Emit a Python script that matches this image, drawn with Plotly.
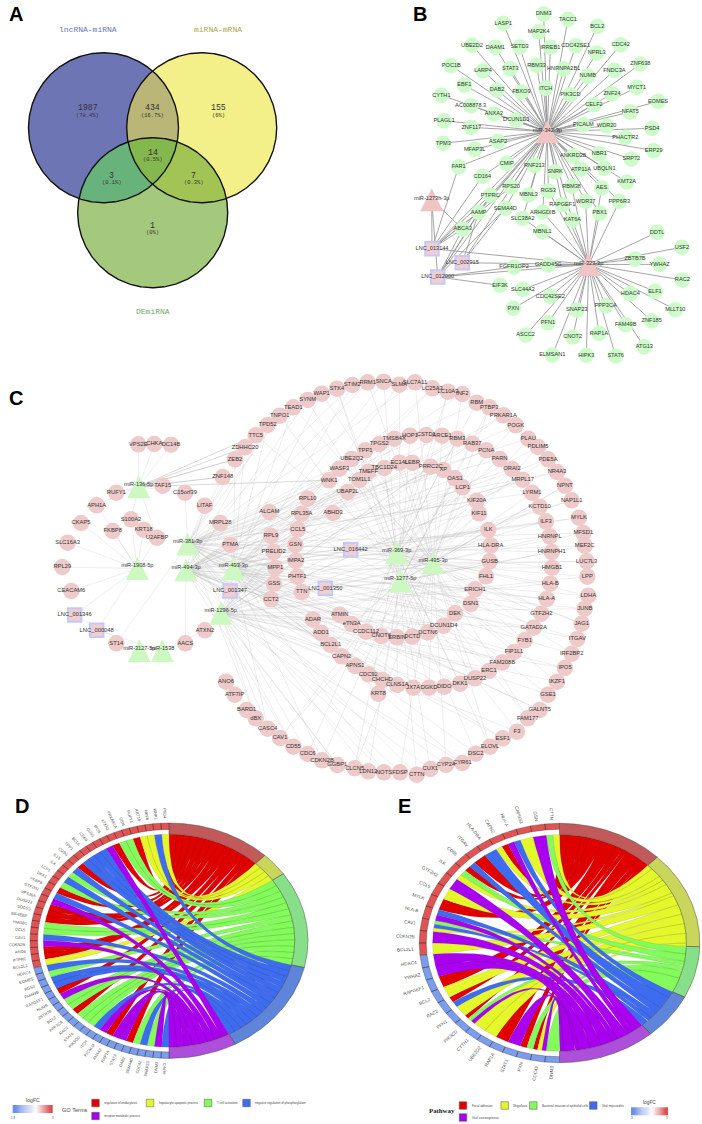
import math
import numpy as np
import plotly.graph_objects as go

# ---------- Panel A ----------
VENN_CIRCLES = {"lnc": (103.5, 127.7, 75), "mir": (201.7, 127.7, 75), "de": (152.7, 212.7, 75)}
VENN_COUNTS = ["1987", "434", "155", "14", "3", "7", "1"]
VENN_PCTS = ["(78.4%)", "(16.7%)", "(6%)", "(0.5%)", "(0.1%)", "(0.3%)", "(0%)"]
VENN_X = [87.7, 152.7, 218.3, 152.7, 111.7, 193.3, 152.7]
VENN_Y = [107.7, 107.7, 107.7, 152, 175, 175, 225.3]
VENN_TITLES = ["lncRNA-miRNA", "miRNA-mRNA", "DEmiRNA"]
VENN_TITLE_X = [87.7, 217.7, 152.7]
VENN_TITLE_Y = [29.3, 29.3, 311.7]
VENN_TITLE_COL = ["#6c74bb", "#a9a64e", "#6fa868"]

# ---------- Panel B (positions read in 3x crops) ----------
B_UP = ["LASP1","DNM3","TACC1","BCL2","MAP2K4","UBE2D2","DAAM1","SETD3","IRREB1","CDC42SE1","NPRL3","CDC42","ZNF638","POC1B","LARP4","STAT3","RBM33","HNRNPA2B1","NUMB","FNDC3A","EBF1","DAB2","FBXO9","ITCH","PIK3CD","ZNF24","MYCT1","CYTH1","AC008878.3","ANXA2","CELF2","EOMES","NFAT5","PLAGL1","ZNF117","DCUN1D1","PICALM","WDR20","PSD4","TPM3","ASAP2","MFAP3L","PHACTR2","ERP29","NBR1","SRP72","ANKRD28","FAR1","CMIP","RNF213","SNRK","ATP11A","UBQLN1","KMT2A","CD164","RPS20","RBM38","AES"]
B_UP_ZX = [310,431,504,592,416,216,286,359,451,527,590,662,721,154,249,331,410,491,563,643,193,291,364,437,511,636,710,124,212,282,582,774,691,132,214,349,550,620,756,130,294,224,676,761,598,694,519,176,320,403,465,543,613,680,247,333,515,605]
B_UP_ZY = [70,42,58,79,95,136,142,141,142,137,159,134,192,197,212,206,196,207,228,211,255,270,276,265,284,281,262,286,317,342,314,304,336,362,382,360,374,378,385,430,424,448,412,452,461,477,468,500,490,496,515,508,505,546,529,561,559,564]
B_LOW = ["PTPRC","MBNL3","RGS3","WDR37","PPP6R3","SEMA4D","RAPGEF1","ARHGDIB","PBX1","SLC38A2","KAT6A","AAMP","ABCA3","MBNL1","FGFR1OP2","GADD45G","DDTL","USF2","ZBTB7B","YWHAZ","RAC2","EIF3K","SLC44A2","CDC42SE2","HDAC4","ELF1","MLLT10","PXN","SNAP23","PPP3CA","ZNF185","PFN1","FAM49B","ASCC2","CNOT2","RAP1A","ATG13","ELMSAN1","HIPK3","STAT6"]
B_LOW_ZX = [271,386,445,557,658,316,487,428,599,368,517,236,188,427,342,445,771,846,705,779,847,300,369,451,691,765,826,340,530,617,755,444,677,377,518,597,733,457,559,647]
B_LOW_ZY = [46,45,33,64,64,85,74,97,99,115,120,97,147,155,261,255,157,202,237,253,300,316,328,349,341,334,389,385,390,377,422,428,434,465,471,460,500,525,526,528]
B_MIR = ["miR-342-3p", "miR-323-3p", "miR-1273h-3p"]
B_MIR_X = [547.3, 588.7, 431.7]
B_MIR_Y = [131.7, 264.5, 199.7]
B_LNC = ["LNC_013144", "LNC_002915", "LNC_012000"]
B_LNC_X = [432, 462.3, 437.7]
B_LNC_Y = [248.7, 262.7, 277]
B_TO_342 = B_UP + ["PTPRC","MBNL3","RGS3","WDR37","PPP6R3","SEMA4D","RAPGEF1","ARHGDIB","PBX1","KAT6A","AAMP","ABCA3","SLC38A2","LNC_013144","LNC_002915","LNC_012000"]
B_TO_323 = ["SLC38A2","ARHGDIB","MBNL1","KAT6A","RAPGEF1","WDR37","PBX1","PPP6R3","RGS3","RBM38","AES","FGFR1OP2","GADD45G","DDTL","USF2","ZBTB7B","YWHAZ","RAC2","SLC44A2","CDC42SE2","HDAC4","ELF1","MLLT10","PXN","SNAP23","PPP3CA","ZNF185","PFN1","FAM49B","ASCC2","CNOT2","RAP1A","ATG13","ELMSAN1","HIPK3","STAT6","LNC_002915","LNC_012000","LNC_013144"]
B_EXTRA_A = ["miR-1273h-3p","miR-1273h-3p","miR-1273h-3p","FAR1","CD164","PTPRC","AAMP","AAMP","SEMA4D","RPS20","ABCA3","ABCA3","LNC_012000","LNC_012000","PTPRC","SEMA4D","AAMP"]
B_EXTRA_B = ["LNC_013144","LNC_012000","ABCA3","LNC_013144","LNC_013144","LNC_013144","LNC_012000","LNC_013144","LNC_002915","LNC_013144","LNC_013144","LNC_012000","EIF3K","FGFR1OP2","LNC_012000","LNC_012000","LNC_002915"]

# ---------- Panel C ----------
C_OUTER = ["ZEB2","ZDHHC20","TTC5","TPD52","TNPO1","TEAD1","SYNM","WAP1","STK4","STIM2","RRM1","SNCA","SLMA","SLC7A11","LC25A3","LC10A3","INF2","RBM","PTBP3","PRKAR1A","POGK","PLAU","PDLIM5","PDE5A","NR4A3","NPNT","NAP1L1","MYLK","MFSD1","MEF2C","LUC7L3","LPP","LDHA","JUNB","JAG1","ITGAV","IRF2BP2","IPO5","IKZF1","GSE1","GALNT5","FAM177","F3","ESF1","ELOVL","DSC2","CYR61","CYP24","CUX1","CTTN","FDSP","NOTS","LDN12","CLCN5","GGBP1","CDKN2B","CDC6","CD55","CAV1","CASC4","dBX","BARD1","ATF7IP","ANO6"]
C_OUTER_X = [235,245,255.7,267.7,279.7,293.3,307.7,321.7,337,352.3,367.7,383.7,399.3,415,432.3,448,462.3,476.7,489.3,503.3,515.7,528.3,538,548,557,565,571.7,579,583.3,584.7,586.7,587.3,588.3,584.7,581.7,577.3,571.7,565,557,548,539.7,527.7,517,502.7,490,475.7,462.3,446,430.3,416.7,400,384,368.3,354.7,337.3,322,307.7,293.3,280,267.7,255.7,246.7,234.7,226]
C_OUTER_Y = [459.3,447.3,435.3,425,415.7,407.3,400,393.7,388.7,385,382.3,381.7,384.7,382.3,388.3,391.7,394,402.7,407.3,415.3,425.3,438.7,447,459.3,472,485.7,500.3,517.7,533,545.7,561.3,576.7,595.7,608.7,623.7,639,653.7,668,681.7,694.7,710,718.3,731.7,738.3,746.7,753.7,763,765,769,774.7,772.3,772.3,771.3,768.3,765,760.3,754,746.7,738,728.7,718.3,710,694.7,681.7]
C_OUTER_H = "ea be fb ed hb gi fd ge hf bi gd fe hi gb ei fh dg bf gh ei fd hb gi ef db hg if de gb hf eg bi fh di gf he bg id fi hd eb gf ih de fg bh ie gd hi fb dg ei bh gf di he fb id gh ei ib".split()
C_MID = ["ZNF148","WNK1","WASF3","UBE2Q2","TPP1","TPGS2","TMSB4X","HOP1","CSTD1","ARCE1","RBM3","RAB37","PCNA","PARN","ORAI2","MRPL17","LYRM1","KCTD10","ILF3","HNRNPL","HNRNPH1","HMGB1","HLA-B","HLA-A","GTF2H2","GATAD2A","FYB1","FIP1L1","FAM208B","ERC1","DUSP22","DKK1","DIDO","DGKD","JX7A","CLNS1A","CHCHD","CDC92","APNS1","CAPN2","BCL2L1","ADD1","ADAR","KRT8"]
C_MID_X = [222.7,329,339.3,351.7,365.3,379.3,394.3,410,426.3,442,457.3,472.3,486.3,499.7,512,522.7,532,539.7,546,549.7,551.7,552,550.3,546.7,541.3,533.7,524.7,514,502.3,489,475,460,444.3,429,413.3,397.3,382.3,368.3,355,341.7,330.7,321,313,378.3]
C_MID_Y = [477,480.3,468.7,459,450.3,444,438.7,435.7,435,435.7,438.7,443.7,450.3,459,469,479.7,492.7,506.7,521.3,536.3,552,567.7,583.7,599,613.7,627.7,640.3,652,662.3,671,678.3,683.7,686.7,687.7,687.7,685,680,674.3,666,656.3,645,632.7,619.3,693.7]
C_MID_H = "ab bd eg dh ig fb gi he bf dg ef ih gd fb hd ie bg fh di ge hb fd gi eh bf di gh fe db hi gd ef ib hg de fb ih gd eb fi hd be".split()
C_INNER = ["UBAP2L","TOM1L1","TMEFF","TBC1D24","EC14L","LEBR","PRRC2C","XP","OAS1","LCP1","KIF20A","KIF11","ILK","HLA-DRA","GUSB","FHL1","ERICH1","DSN1","DEK","DCUN1D4","DCTN6","DCTD","ERBIN","CNOT6","CCDC112","eTN3A","ATMIN"]
C_INNER_X = [347.7,359.3,368.3,384.3,399.3,412.3,430.7,443.3,455,462.7,476.7,479,488.3,490.7,489.7,486,475,470.7,455,443.7,428,412.3,397,381.3,366,351.7,339.7]
C_INNER_Y = [492,480,471.7,468,462.7,462.7,466.7,470,478.3,487.3,500.7,513.3,530,545.3,561.3,576.3,589.3,604,613.3,625.7,632.3,636.7,637.3,636,631.7,624,614.7]
C_INNER_H = "bh gd ef hi de gb fi db he gf ib dh eg fd bh ig dh ef gb id fh eg bi dg ef ih gd".split()
C_LEFT = ["ABHD3","RPL10","RPL35A","ALCAM","CCL5","RPL9","GSN","PRELID2","IMPA2","MPP1","PHTF1","GSS","TTN","CCT2","TAF15","RUFY1","C15orf39","APH1A","LITAF","CKAP5","S100A2","KRT18","FKBP8","U2AFBP","MRPL28","SLC16A3","RPL29","PTMA","VPS2E","CHKA","DC14B","CEACAM6","ST14","AACS","ATXN2"]
C_LEFT_X = [333,307.7,301.7,269.3,297.7,271,295.3,273.7,295.7,275.3,297.3,274,301.7,271,162.7,116.3,185,96.7,204.7,81,131,143.7,112.7,157,220.3,67.7,62.3,230.3,138.3,154.3,171,71.3,116.3,185.3,205]
C_LEFT_Y = [513,498.7,513.7,512,529.3,536,545,552,561,568,576.7,583.7,592,599.3,485.7,492.7,492.7,505.3,505.7,523,519.3,529.7,531,537.7,523,542.7,567,544.7,444.3,444,444.7,591,643.3,643.3,630.3]
C_LEFT_H = "gb db eg bh gi de fb dg eh ib gd fe hb dg a a ab ac bd c ac c c ac bd c c de a a a c jb kd ki".split()
C_HUB_KEY = list("abcdefghijk")
C_HUB = ["miR-136-5p","miR-381-3p","miR-1908-5p","miR-494-3p","miR-493-3p","miR-369-3p","miR-495-3p","miR-1277-5p","miR-1296-5p","miR-3127-5p","miR-1538"]
C_HUB_X = [138.7,187.7,137.3,186,233.3,396.7,433,400.3,220.7,139.3,162.3]
C_HUB_Y = [486.7,544,568.5,570,568.5,552.7,562.7,581,613.3,650.7,650.7]
C_LNC = ["LNC_016442","LNC_001350","LNC_001347","LNC_001346","LNC_000048"]
C_LNC_X = [350.7,325.3,230,74.7,96.7]
C_LNC_Y = [549.7,588.3,591,615,630.3]
C_LNC_H = ["gf","gh","bd","cj","ck"]
C_LONG_A = ["a","a","a","a","a"]
C_LONG_B = ["ZEB2","ZDHHC20","TTC5","WNK1","ZNF148"]

# ---------- Panels D and E ----------
TERM_COL = {"r": "#e00000", "y": "#e4f72a", "g": "#83fb5a", "b": "#3e6cf0", "p": "#a900f0"}
TERM_ORDER = ["r", "y", "g", "b", "p"]
D_GENES = ["PSD4","WNK1","NKF8","KRT18","RUFY1","GSN","PRKAR1A","ATXN2","IPO5","CD55","CD69","BCL6","TPP1","CD3G","IL15","ILK","LCP1","DKK1","FKBP8","GTF2H2","VPS26A","DUSP22","SOCS3","EIF4EBP","HMGB1","CCL5","CAV1","CDKN2B","ANO6","PTPRC","BCL2L1","HDAC4","EOMES","RGS3","FAM49B","RAPGEF1","NUMB","ZBTB7B","BCL2","PPP3CA","RAC2","STAT6","PIK3CD","ITCH","PICALM","ANXA2","RAP1A","STAT3","DAB2","SEMA4D","CDC42","SNAP23","DNM3","HIPK3"]
D_LINKS = "y b y y r g g r p b b b b r b g b g r b p r r r g g b p r r y b g b b r p g g r g g g b p r p p r g b g p b".split()
D_RED_GENES = 31
D_TERM_END = [43.6, 55.4, 103.2, 151.5, 180]
E_GENES = ["CTTN","GSN","CAPNS1","HLA-A","CAPN2","HLA-DRA","ITGAV","CD55","ILK","GTF2H2","CCL5","MYLK","HLA-B","CAV1","CDKN2B","BCL2L1","HDAC4","YWHAZ","RAPGEF1","BCL2","RAC2","PFN1","PIK3CD","CYTH1","UBE2D2","RAP1A","STAT3","PXN","CDC42","DNM3"]
E_LINKS = "yg p y bp ry b r br gy p y r bp gby p y p p r y rb y rgp y y r p rg ryp g".split()
E_RED_GENES = 16
E_TERM_END = [44.2, 91.8, 116.9, 139.4, 180]
D_TERMS = ["regulation of endocytosis", "hepatocyte apoptotic process", "T cell activation", "negative regulation of phosphorylation", "receptor metabolic process"]
E_TERMS = ["Focal adhesion", "Shigellosis", "Bacterial invasion of epithelial cells", "Viral myocarditis", "Viral carcinogenesis"]
D_SWATCH_X = [95.5, 150, 208, 246.5, 95.5]
D_SWATCH_Y = [1103, 1103, 1103, 1103, 1116]
E_SWATCH_X = [463, 504.7, 533.3, 593.3, 463]
E_SWATCH_Y = [1105.5, 1105.5, 1105.5, 1105.5, 1117.5]
LOGFC_STOPS = [-1.8, -1, -0.4, 0, 0.6, 1.4, 2.2, 3]

fig = go.Figure()
FONT = "Liberation Sans"
ann = []


def note(x, y, text, size, color="#222", family=FONT, angle=0, anchor="center"):
    ann.append(dict(x=x, y=y, text=text, showarrow=False, xref="x", yref="y", textangle=angle,
                    xanchor=anchor, yanchor="middle", font=dict(size=size, color=color, family=family)))


def poly(xs, ys, fill, line="rgba(0,0,0,0)", width=0):
    fig.add_trace(go.Scatter(x=xs, y=ys, mode="lines", fill="toself", fillcolor=fill,
                             line=dict(color=line, width=width), hoverinfo="skip"))


def lens(circles, n=360):
    # outline of the intersection of circles, found from its centroid
    cx = sum(c[0] for c in circles) / len(circles)
    cy = sum(c[1] for c in circles) / len(circles)
    xs, ys = [], []
    for a in np.linspace(0, 2 * math.pi, n):
        ux, uy = math.cos(a), math.sin(a)
        best = 1e9
        for (x0, y0, r) in circles:
            dx, dy = cx - x0, cy - y0
            b = dx * ux + dy * uy
            best = min(best, -b + math.sqrt(max(b * b - (dx * dx + dy * dy - r * r), 0)))
        xs.append(cx + best * ux)
        ys.append(cy + best * uy)
    return xs, ys


# ---- A
cL, cM, cD = VENN_CIRCLES["lnc"], VENN_CIRCLES["mir"], VENN_CIRCLES["de"]
for c, col in [(cL, "#6e75b5"), (cM, "#f3f08a"), (cD, "#a5c97c")]:
    poly(*lens([c]), col)
for cs, col in [([cL, cM], "#b9b678"), ([cL, cD], "#68b37c"), ([cM, cD], "#a2c454"), ([cL, cM, cD], "#84b84f")]:
    poly(*lens(cs), col)
for c in (cL, cM, cD):
    xs, ys = lens([c])
    fig.add_trace(go.Scatter(x=xs, y=ys, mode="lines", line=dict(color="#111", width=1.4), hoverinfo="skip"))
for cnt, pct, x, y in zip(VENN_COUNTS, VENN_PCTS, VENN_X, VENN_Y):
    note(x, y, cnt, 8.2, "#333", "Liberation Mono")
    note(x, y + 8, pct, 5.4, "#333", "Liberation Mono")
for t, x, y, col in zip(VENN_TITLES, VENN_TITLE_X, VENN_TITLE_Y, VENN_TITLE_COL):
    note(x, y, t, 8, col, "Liberation Mono")

# ---- shared network drawing


def edges(pairs, pos, color, width):
    xs, ys = [], []
    for a, b in pairs:
        if a in pos and b in pos:
            xs += [pos[a][0], pos[b][0], None]
            ys += [pos[a][1], pos[b][1], None]
    fig.add_trace(go.Scatter(x=xs, y=ys, mode="lines", line=dict(color=color, width=width), hoverinfo="skip"))


def triangles(xs, ys, color, w=23, h=23):
    px, py = [], []
    for x, y in zip(xs, ys):
        px += [x - w / 2, x + w / 2, x, x - w / 2, None]
        py += [y + h / 2, y + h / 2, y - h / 2, y + h / 2, None]
    poly(px, py, color)


def discs(xs, ys, size, color):
    fig.add_trace(go.Scatter(x=xs, y=ys, mode="markers", marker=dict(size=size, color=color, line=dict(width=0)), hoverinfo="skip"))


def squares(xs, ys):
    fig.add_trace(go.Scatter(x=xs, y=ys, mode="markers", hoverinfo="skip",
                             marker=dict(size=13.5, symbol="square", color="#f0cfd2", line=dict(color="#c8c8f8", width=2))))


def labels(xs, ys, names, size=5.8, color="#333"):
    fig.add_trace(go.Scatter(x=xs, y=ys, mode="text", text=names, textposition="middle center",
                             textfont=dict(size=size, color=color, family=FONT), hoverinfo="skip"))


# ---- B
bux = [400 + v / 3 for v in B_UP_ZX]
buy = [v / 3 for v in B_UP_ZY]
blx = [400 + v / 3 for v in B_LOW_ZX]
bly = [180 + v / 3 for v in B_LOW_ZY]
bpos = dict(zip(B_UP + B_LOW + B_MIR + B_LNC, zip(bux + blx + B_MIR_X + B_LNC_X, buy + bly + B_MIR_Y + B_LNC_Y)))
edges([(g, "miR-342-3p") for g in B_TO_342] + [(g, "miR-323-3p") for g in B_TO_323] + list(zip(B_EXTRA_A, B_EXTRA_B)),
      bpos, "#959595", 0.85)
discs(bux + blx, buy + bly, 15.5, "#cdfbc9")
triangles(B_MIR_X, B_MIR_Y, "#f0c4c4")
squares(B_LNC_X, B_LNC_Y)
labels(bux + blx + B_LNC_X, buy + bly + B_LNC_Y, B_UP + B_LOW + B_LNC, 5.6)
labels(B_MIR_X, [y - 1 for y in B_MIR_Y], B_MIR, 5.6)

# ---- C
cpos = {}
for ns, xs, ys in [(C_OUTER, C_OUTER_X, C_OUTER_Y), (C_MID, C_MID_X, C_MID_Y), (C_INNER, C_INNER_X, C_INNER_Y),
                   (C_LEFT, C_LEFT_X, C_LEFT_Y), (C_LNC, C_LNC_X, C_LNC_Y)]:
    cpos.update(zip(ns, zip(xs, ys)))
hubname = dict(zip(C_HUB_KEY, C_HUB))
cpos.update(zip(C_HUB, zip(C_HUB_X, C_HUB_Y)))
cpairs = []
for ns, hs in [(C_OUTER, C_OUTER_H), (C_MID, C_MID_H), (C_INNER, C_INNER_H), (C_LEFT, C_LEFT_H), (C_LNC, C_LNC_H)]:
    for n, h in zip(ns, hs):
        cpairs += [(n, hubname[k]) for k in h]
edges(cpairs, cpos, "rgba(175,175,175,0.42)", 0.5)
edges([(hubname[a], b) for a, b in zip(C_LONG_A, C_LONG_B)], cpos, "rgba(150,150,150,0.6)", 0.6)
cx_all = C_OUTER_X + C_MID_X + C_INNER_X + C_LEFT_X
cy_all = C_OUTER_Y + C_MID_Y + C_INNER_Y + C_LEFT_Y
discs(cx_all, cy_all, 16.5, "#eecaca")
triangles(C_HUB_X, C_HUB_Y, "#cdf8c2")
squares(C_LNC_X, C_LNC_Y)
labels(cx_all + C_LNC_X, cy_all + C_LNC_Y, C_OUTER + C_MID + C_INNER + C_LEFT + C_LNC, 5.8)
labels(C_HUB_X, [y - 2.5 for y in C_HUB_Y], C_HUB, 5.6)


# ---- Chords
def pt(th, r, g):
    a = math.radians(th)
    return g["cx"] + r * g["rx"] * math.sin(a), g["cy"] - r * g["ry"] * math.cos(a)


def arc(t0, t1, r, g, n=8):
    return [pt(t, r, g) for t in np.linspace(t0, t1, n)]


def ring_cell(t0, t1, r0, r1, g):
    p = arc(t0, t1, r0, g) + arc(t1, t0, r1, g)
    p.append(p[0])
    return p


def bez(p0, p2, g, n=24):
    c = (g["cx"], g["cy"])
    return [((1 - t) ** 2 * p0[0] + 2 * t * (1 - t) * c[0] + t ** 2 * p2[0],
             (1 - t) ** 2 * p0[1] + 2 * t * (1 - t) * c[1] + t ** 2 * p2[1]) for t in np.linspace(0, 1, n)]


def add_polys(groups, fill, line, width):
    xs, ys = [], []
    for p in groups:
        xs += [q[0] for q in p] + [None]
        ys += [q[1] for q in p] + [None]
    poly(xs, ys, fill, line, width)


def chord(genes, links, n_red, term_end, g, fs, cols_term):
    step = 180 / len(genes)
    per = {k: [] for k in TERM_ORDER}
    for i, ls in enumerate(links):
        w = step / len(ls)
        for j, k in enumerate(ls):
            per[k].append((i * step + j * w, i * step + (j + 1) * w))
    start = 0
    for k, end in zip(TERM_ORDER, term_end):
        total = sum(b - a for a, b in per[k])
        scale = (end - start) / total
        tpos = start
        groups = []
        for a, b in per[k]:
            t0, t1 = tpos, tpos + (b - a) * scale
            tpos = t1
            p = arc(-a, -b, g["in"], g)
            p += bez(p[-1], pt(t1, g["in"], g), g)
            p += arc(t1, t0, g["in"], g)
            p += bez(p[-1], pt(-a, g["in"], g), g)
            groups.append(p)
        add_polys(groups, TERM_COL[k], "rgba(50,50,50,0.35)", 0.3)
        add_polys([ring_cell(start, end, g["in"], 1.0, g)], cols_term[k], "rgba(60,70,50,0.8)", 0.6)
        start = end
    red = [ring_cell(-i * step, -(i + 1) * step, g["rin"], 1.0, g) for i in range(n_red)]
    blue = [ring_cell(-i * step, -(i + 1) * step, g["rin"], 1.0, g) for i in range(n_red, len(genes))]
    add_polys(red, "#e25353", "rgba(50,50,50,0.7)", 0.5)
    add_polys(blue, "#7c9cec", "rgba(50,50,50,0.7)", 0.5)
    for i, name in enumerate(genes):
        th = -(i + 0.5) * step
        half = len(name) * fs * 0.3
        x0, y0 = pt(th, 1.03, g)
        dx, dy = x0 - g["cx"], y0 - g["cy"]
        d = math.hypot(dx, dy)
        x, y = x0 + dx / d * (half + 1), y0 + dy / d * (half + 1)
        note(x, y, name, fs, "#555", FONT, math.degrees(math.atan2(-dy, -dx)))


TERM_RING = {"r": "#c2595b", "y": "#c9d65b", "g": "#87df8a", "b": "#5f85da", "p": "#ad4fda"}
GD = dict(cx=169, cy=940.7, rx=139, ry=117.7, **{"in": 0.905, "rin": 0.945})
GE = dict(cx=559.5, cy=943, rx=140.3, ry=119.7, **{"in": 0.905, "rin": 0.95})
chord(D_GENES, D_LINKS, D_RED_GENES, D_TERM_END, GD, 4, TERM_RING)
chord(E_GENES, E_LINKS, E_RED_GENES, E_TERM_END, GE, 4.6, TERM_RING)

# legends
CS = [[0, "#6f8fe6"], [0.5, "#ffffff"], [1, "#d94f4f"]]
for x0, w, y0, h in [(12.7, 40, 1105, 7.7), (631, 36.7, 1107.3, 7.7)]:
    fig.add_trace(go.Heatmap(z=[LOGFC_STOPS], x0=x0 + w / 16, dx=w / 8, y0=y0 + h / 2, dy=h, colorscale=CS,
                             zmid=0.6, showscale=False, hoverinfo="skip", zsmooth="best"))
for xs, ys, names, tx in [(D_SWATCH_X, D_SWATCH_Y, D_TERMS, 6.5), (E_SWATCH_X, E_SWATCH_Y, E_TERMS, 6.5)]:
    fig.add_trace(go.Scatter(x=xs, y=ys, mode="markers", hoverinfo="skip",
                             marker=dict(size=7.5, symbol="square", color=[TERM_COL[k] for k in TERM_ORDER],
                                         line=dict(color="#555", width=0.5))))
    for x, y, t in zip(xs, ys, names):
        note(x + tx, y + 0.3, t, 3, "#444", FONT, 0, "left")
note(32.5, 1100, "logFC", 5.2, "#444")
note(12.7, 1117.5, "-1.8", 3, "#555")
note(52.7, 1117.5, "3", 3, "#555")
note(75, 1109.5, "GO Terms", 5.6, "#444")
note(649, 1102.7, "logFC", 4.8, "#444")
note(631, 1118.3, "-3", 3, "#555")
note(667, 1118.3, "3", 3, "#555")
note(442.3, 1110.7, "<b>Pathway</b>", 6.8, "#222", "Liberation Serif")

# panel letters
for t, x, y in [("A", 15.5, 14), ("B", 419.5, 14), ("C", 15.5, 397.5), ("D", 22, 805.5), ("E", 404, 805.5)]:
    note(x, y, f"<b>{t}</b>", 20, "#000", FONT)

fig.update_layout(width=702, height=1124, margin=dict(l=0, r=0, t=0, b=0), showlegend=False,
                  paper_bgcolor="white", plot_bgcolor="white", annotations=ann,
                  xaxis=dict(range=[0, 702], visible=False, fixedrange=True),
                  yaxis=dict(range=[1124, 0], visible=False, fixedrange=True))
fig.write_html("out.html", config={"displayModeBar": False},
               post_script="document.body.style.margin='0';")
